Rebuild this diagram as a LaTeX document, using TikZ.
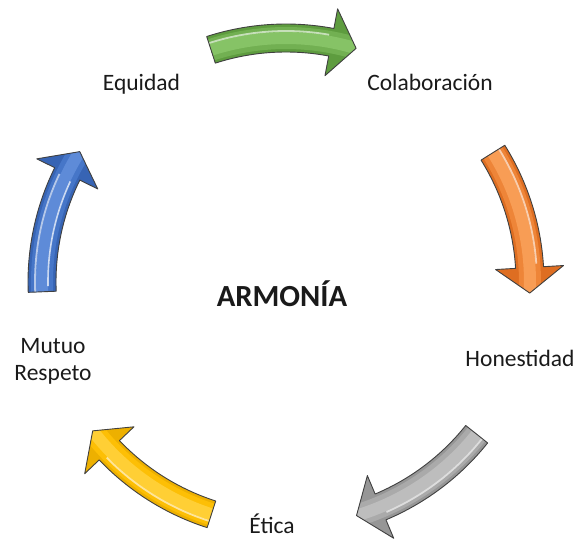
\documentclass[tikz,border=0pt]{standalone}
\usepackage{fontspec}
\setmainfont{Carlito}
\definecolor{txt}{HTML}{1A1A1A}
\definecolor{gbase}{HTML}{5E9C3F}\definecolor{gmid}{HTML}{72B052}\definecolor{glight}{HTML}{86C366}
\definecolor{obase}{HTML}{DE6E22}\definecolor{omid}{HTML}{EE8538}\definecolor{olight}{HTML}{F89D55}
\definecolor{ybase}{HTML}{EDB000}\definecolor{ymid}{HTML}{FDBF05}\definecolor{ylight}{HTML}{FFCF35}
\definecolor{kbase}{HTML}{969696}\definecolor{kmid}{HTML}{AAAAAA}\definecolor{klight}{HTML}{BDBDBD}
\definecolor{bbase}{HTML}{3764B4}\definecolor{bmid}{HTML}{4676C8}\definecolor{blight}{HTML}{5E8BD8}
\newcommand{\cyclearrow}[4]{%
  \pgfmathsetmacro\cyT{#1+17.3}%
  \pgfmathsetmacro\cyP{#1-17.3}%
  \pgfmathsetmacro\cyH{#1-11.3}%
  \pgfmathsetmacro\cyTT{#1+19}%
  \pgfmathsetmacro\cyHH{#1-10.5}%
  \begin{scope}
    \path[clip] (\cyT:258) arc[start angle=\cyT, end angle=\cyH, radius=258pt]
      -- (\cyH:278) -- (\cyP:244) -- (\cyH:210) -- (\cyH:230)
      arc[start angle=\cyH, end angle=\cyT, radius=230pt] -- cycle;
    \fill[#2] (-300,-300) rectangle (300,300);
    \draw[#3, line width=22pt] (\cyTT:244) arc[start angle=\cyTT, end angle=\cyP, radius=244pt];
    \draw[#4, line width=12pt] (\cyTT:244) arc[start angle=\cyTT, end angle=\cyP, radius=244pt];
    \draw[white, opacity=0.6, line width=1.8pt] (\cyT:251) arc[start angle=\cyT, end angle=\cyHH, radius=251pt];
  \end{scope}
  \draw[arrowline] (\cyT:258) arc[start angle=\cyT, end angle=\cyH, radius=258pt]
      -- (\cyH:278) -- (\cyP:244) -- (\cyH:210) -- (\cyH:230)
      arc[start angle=\cyH, end angle=\cyT, radius=230pt] -- cycle;
}
\begin{document}
\begin{tikzpicture}[x=1pt,y=1pt,
  arrowline/.style={draw=black!75, line width=0.9pt, line join=round},
  lbl/.style={text=txt, font=\fontsize{23.5}{27}\selectfont, inner sep=0pt},
  ctr/.style={text=txt, font=\fontsize{30.7}{34}\selectfont\bfseries, inner sep=0pt}]
\useasboundingbox (0,0) rectangle (576,539);
\begin{scope}[shift={(286,257)}]
  \cyclearrow{90.6}{gbase}{gmid}{glight}
  \cyclearrow{14.7}{obase}{omid}{olight}
  \cyclearrow{-55.9}{kbase}{kmid}{klight}
  \cyclearrow{234.9}{ybase}{ymid}{ylight}
  \cyclearrow{165}{bbase}{bmid}{blight}
  \draw[white, opacity=0.7, line width=1.6pt] (181:238) arc[start angle=181, end angle=155, radius=238pt];
\end{scope}
\node[lbl, anchor=base] (equidad) at (141.5,448) {Equidad};
\node[lbl, anchor=base] (colab) at (430,448) {Colaboración};
\node[lbl, anchor=base] (honest) at (520,173) {Honestidad};
\node[lbl, anchor=base] (etica) at (272,6) {Ética};
\node[lbl, align=center] (mutuo) at (53,178) {Mutuo\\Respeto};
\node[ctr, anchor=base] (armonia) at (282,233) {ARMONÍA};
\end{tikzpicture}
\end{document}
